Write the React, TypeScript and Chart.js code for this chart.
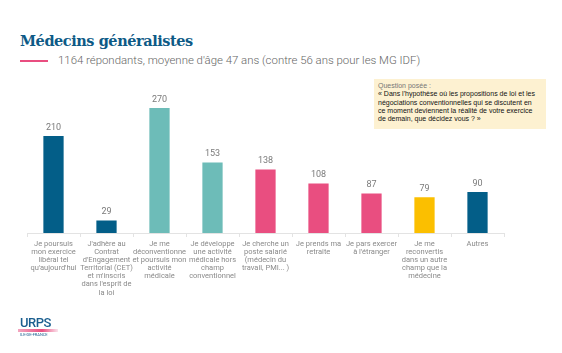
import React, { useEffect, useRef } from "react";
import { Chart, registerables } from "chart.js";

Chart.register(...registerables);

const categories: string[][] = [
  ["Je poursuis", "mon exercice", "libéral tel", "qu'aujourd'hui"],
  ["J'adhère au", "Contrat", "d'Engagement", "Territorial (CET)", "et m'inscris", "dans l'esprit de", "la loi"],
  ["Je me", "déconventionne", "et poursuis mon", "activité", "médicale"],
  ["Je développe", "une activité", "médicale hors", "champ", "conventionnel"],
  ["Je cherche un", "poste salarié", "(médecin du", "travail, PMI... )"],
  ["Je prends ma", "retraite"],
  ["Je pars exercer", "à l'étranger"],
  ["Je me", "reconvertis", "dans un autre", "champ que la", "médecine"],
  ["Autres"],
];
const values: number[] = [210, 29, 270, 153, 138, 108, 87, 79, 90];
const BLUE = "#035e88";
const TEAL = "#6dbcb8";
const PINK = "#e94e80";
const YELLOW = "#fbbf00";
const barColors: string[] = [BLUE, BLUE, TEAL, TEAL, PINK, PINK, PINK, YELLOW, BLUE];

const valueLabels = {
  id: "valueLabels",
  afterDatasetsDraw(chart: any) {
    const ctx = chart.ctx;
    const meta = chart.getDatasetMeta(0);
    ctx.save();
    ctx.font = "9px Roboto";
    ctx.fillStyle = "#7a7a7a";
    ctx.textAlign = "center";
    ctx.textBaseline = "bottom";
    meta.data.forEach((bar: any, i: number) => {
      ctx.fillText(String(values[i]), bar.x, bar.y - 3);
    });
    ctx.restore();
  },
};

export default function App() {
  const ref = useRef<HTMLCanvasElement>(null);
  useEffect(() => {
    if (!ref.current) return;
    const chart = new Chart(ref.current, {
      type: "bar",
      data: {
        labels: categories,
        datasets: [
          {
            data: values,
            backgroundColor: barColors,
            borderColor: "#ffffff",
            borderWidth: 1,
            barPercentage: 0.42,
            categoryPercentage: 1,
          },
        ],
      },
      options: {
        animation: false,
        responsive: false,
        maintainAspectRatio: false,
        layout: { padding: { left: 27, right: 58, top: 93, bottom: 0 } },
        plugins: { legend: { display: false }, tooltip: { enabled: false } },
        scales: {
          y: { display: false, min: 0, max: 300 },
          x: {
            afterFit: (scale: any) => {
              scale.height = 120;
            },
            border: { display: true, color: "#e3e3e3", width: 1 },
            grid: {
              offset: true,
              drawOnChartArea: false,
              drawTicks: true,
              tickLength: 4,
              color: "#e3e3e3",
            },
            ticks: {
              autoSkip: false,
              maxRotation: 0,
              minRotation: 0,
              padding: 3,
              color: "#8a8a8a",
              font: { family: "Roboto", size: 7.5, lineHeight: 1.08 },
            },
          },
        },
      },
      plugins: [valueLabels],
    });
    return () => chart.destroy();
  }, []);

  return (
    <div style={{ position: "fixed", left: 0, top: 0, width: 562, height: 353, background: "#fff", overflow: "hidden" }}>
      <div
        style={{
          position: "absolute",
          left: 20,
          top: 32,
          fontFamily: "'DejaVu Serif', serif",
          fontWeight: "bold",
          fontSize: 14.5,
          color: "#0d5a86",
          whiteSpace: "nowrap",
          letterSpacing: -0.45,
        }}
      >
        Médecins généralistes
      </div>
      <div style={{ position: "absolute", left: 20, top: 60, width: 28, height: 2, background: PINK }} />
      <div
        style={{
          position: "absolute",
          left: 58,
          top: 53,
          fontFamily: "Roboto",
          fontWeight: 300,
          fontSize: 11.4,
          color: "#666",
          whiteSpace: "nowrap",
        }}
      >
        1164 répondants, moyenne d'âge 47 ans (contre 56 ans pour les MG IDF)
      </div>
      <div
        style={{
          position: "absolute",
          left: 374,
          top: 79,
          width: 172,
          height: 50,
          background: "#fdf1d1",
          boxSizing: "border-box",
          padding: "3px 4px",
          fontFamily: "'Liberation Sans', Arial, sans-serif",
          fontSize: 7,
          lineHeight: "8.3px",
          color: "#111",
          whiteSpace: "nowrap",
        }}
      >
        <div style={{ color: "#777" }}>Question posée :</div>
        <div>
          « Dans l'hypothèse où les propositions de loi et les
          <br />
          négociations conventionnelles qui se discutent en
          <br />
          ce moment deviennent la réalité de votre exercice
          <br />
          de demain, que décidez vous ? »
        </div>
      </div>
      <canvas ref={ref} width={562} height={353} style={{ position: "absolute", left: 0, top: 0 }} />
      <div
        style={{
          position: "absolute",
          left: 20,
          top: 316,
          fontFamily: "Roboto",
          fontWeight: 500,
          fontSize: 13,
          color: "#1a5e8f",
          letterSpacing: -0.5,
          lineHeight: "13px",
        }}
      >
        URPS
      </div>
      <div
        style={{
          position: "absolute",
          left: 18,
          top: 329,
          width: 40,
          height: 3,
          background: "linear-gradient(90deg, #f3a7c0, #e94e80 60%, #fbe3ec)",
        }}
      />
      <div
        style={{
          position: "absolute",
          left: 20,
          top: 332,
          fontFamily: "Roboto",
          fontSize: 4,
          color: "#1a5e8f",
          lineHeight: "5px",
          whiteSpace: "nowrap",
        }}
      >
        ILE-DE-FRANCE
      </div>
    </div>
  );
}
